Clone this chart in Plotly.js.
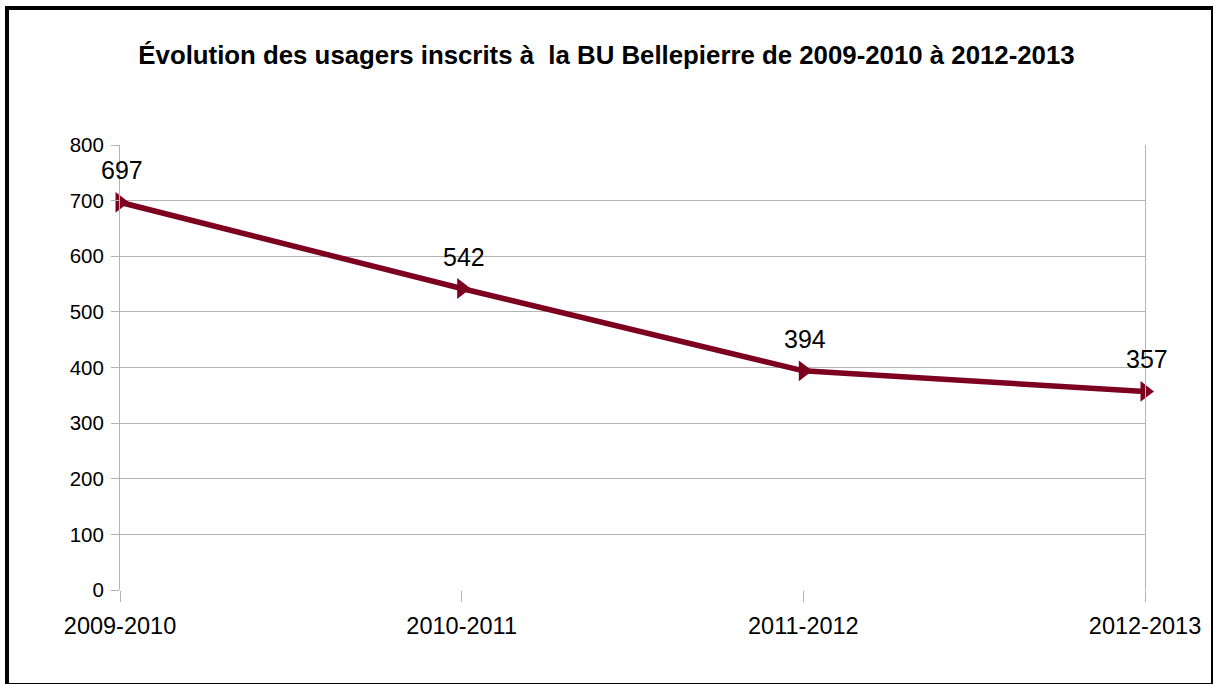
<!DOCTYPE html>
<html><head><meta charset="utf-8">
<script src="https://cdn.plot.ly/plotly-3.0.1.min.js"></script>
<style>
html,body{margin:0;padding:0;background:#fff;}
#chart{position:absolute;left:0;top:0;width:1213px;height:684px;}
#frame{position:absolute;left:5px;top:6px;width:1202px;height:673px;border-left:4px solid #000;border-top:4px solid #000;border-right:2px solid #000;border-bottom:2px solid #000;pointer-events:none;}
</style></head>
<body>
<div id="chart"></div>
<div id="frame"></div>
<script>
const categories = ["2009-2010", "2010-2011", "2011-2012", "2012-2013"];
const usagers = [697, 542, 394, 357];
const yTicks = [0, 100, 200, 300, 400, 500, 600, 700, 800];
const titleText = "Évolution des usagers inscrits à  la BU Bellepierre de 2009-2010 à 2012-2013";

const FONT = "Liberation Sans, Arial, sans-serif";

const trace = {
  x: categories,
  y: usagers,
  type: "scatter",
  mode: "lines+markers",
  line: {color: "#7e0021", width: 5.5},
  marker: {symbol: "triangle-right", size: 18, color: "#7e0021"},
  cliponaxis: false,
  hoverinfo: "skip"
};

const labels = categories.map((c, i) => ({
  x: c, y: usagers[i], xref: "x", yref: "y",
  text: String(usagers[i]),
  showarrow: false, yshift: 32, xshift: 2,
  font: {family: FONT, size: 25, color: "#000"}
}));

const layout = {
  width: 1213, height: 684,
  margin: {l: 120, r: 68, t: 145, b: 94},
  paper_bgcolor: "#fff", plot_bgcolor: "#fff",
  showlegend: false,
  title: {
    text: "<b>" + titleText + "</b>",
    font: {family: FONT, size: 25.8, color: "#000"},
    x: 0.5, xanchor: "center", y: 0.919, yanchor: "middle"
  },
  annotations: labels,
  xaxis: {
    type: "category",
    range: [0, 3],
    tickvals: categories,
    ticktext: categories,
    showgrid: false,
    zeroline: false,
    showline: false,
    ticks: "outside", ticklen: 11, tickcolor: "#b3b3b3", tickwidth: 1,
    tickfont: {family: FONT, size: 23.5, color: "#000"},
    ticklabelstandoff: 4
  },
  yaxis: {
    range: [0, 800],
    tickvals: yTicks,
    ticktext: yTicks.map(String),
    showgrid: true, gridcolor: "#b3b3b3", gridwidth: 1,
    zeroline: false,
    showline: true, linecolor: "#b3b3b3", linewidth: 1, mirror: true,
    ticks: "outside", ticklen: 8, tickcolor: "#b3b3b3", tickwidth: 1,
    tickfont: {family: FONT, size: 20.5, color: "#000"},
    ticklabelstandoff: 3
  }
};

Plotly.newPlot("chart", [trace], layout, {displayModeBar: false, staticPlot: true});
</script>
</body></html>
